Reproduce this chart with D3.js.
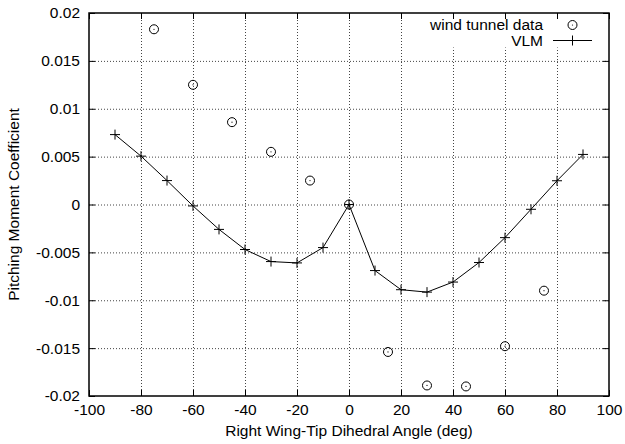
<!DOCTYPE html>
<html>
<head>
<meta charset="utf-8">
<script src="https://cdn.jsdelivr.net/npm/d3@7/dist/d3.min.js"></script>
<style>
  body { margin: 0; background: #fff; }
  svg { display: block; }
  text { font-family: "Liberation Sans", Arial, Helvetica, sans-serif; fill: #000; }
</style>
</head>
<body>
<svg id="chart" width="625" height="444"></svg>
<script>
// ---- data ----
const vlmAngles = [-90, -80, -70, -60, -50, -40, -30, -20, -10, 0, 10, 20, 30, 40, 50, 60, 70, 80, 90];
const vlmValues = [0.0073, 0.00505, 0.0025, -0.00015, -0.0026, -0.0047, -0.00596, -0.0061, -0.0045, 0.0,
                   -0.0069, -0.0089, -0.00915, -0.0081, -0.00606, -0.00346, -0.0005, 0.00248, 0.00523];
const windAngles = [-75, -60, -45, -30, -15, 0, 15, 30, 45, 60, 75];
const windValues = [0.0183, 0.0125, 0.0086, 0.0055, 0.0025, 0.0, -0.0154, -0.0189, -0.019, -0.0148, -0.009];
const xTicks = [-100, -80, -60, -40, -20, 0, 20, 40, 60, 80, 100];
const yTicks = [-0.02, -0.015, -0.01, -0.005, 0, 0.005, 0.01, 0.015, 0.02];
const xTitle = "Right Wing-Tip Dihedral Angle (deg)";
const yTitle = "Pitching Moment Coefficient";
const legendLabels = ["wind tunnel data", "VLM"];

// ---- layout ----
const svg = d3.select("#chart");
const L = 89, R = 609, T = 13, B = 396;
const x = d3.scaleLinear().domain([-100, 100]).range([L, R]);
const y = d3.scaleLinear().domain([-0.02, 0.02]).range([B, T]);
const FS = 15.5;

// grid
const gridX = svg.append("g").attr("transform", `translate(0,${B})`)
  .call(d3.axisBottom(x).tickValues(xTicks.slice(1, -1)).tickSize(-(B - T)).tickFormat(""));
const gridY = svg.append("g").attr("transform", `translate(${L},0)`)
  .call(d3.axisLeft(y).tickValues(yTicks.slice(1, -1)).tickSize(-(R - L)).tickFormat(""));
[gridX, gridY].forEach(g => {
  g.select(".domain").remove();
  g.selectAll(".tick line").attr("stroke", "#444").attr("stroke-width", 1).attr("stroke-dasharray", "1,2");
});

// legend background (hides grid)
svg.append("rect").attr("x", 420).attr("y", T + 0.5).attr("width", R - 420 - 0.5).attr("height", 34).attr("fill", "#fff");

// axes with inward ticks
const TK = 6;
const axB = svg.append("g").attr("transform", `translate(0,${B})`)
  .call(d3.axisBottom(x).tickValues(xTicks).tickSizeInner(-TK).tickSizeOuter(0).tickPadding(8).tickFormat(d => String(d)));
const axT = svg.append("g").attr("transform", `translate(0,${T})`)
  .call(d3.axisTop(x).tickValues(xTicks).tickSizeInner(-TK).tickSizeOuter(0).tickFormat(""));
const axL = svg.append("g").attr("transform", `translate(${L},0)`)
  .call(d3.axisLeft(y).tickValues(yTicks).tickSizeInner(-TK).tickSizeOuter(0).tickPadding(9).tickFormat(d => String(d)));
const axR = svg.append("g").attr("transform", `translate(${R},0)`)
  .call(d3.axisRight(y).tickValues(yTicks).tickSizeInner(-TK).tickSizeOuter(0).tickFormat(""));
[axB, axT, axL, axR].forEach(g => {
  g.select(".domain").remove();
  g.selectAll(".tick line").attr("stroke", "#000").attr("stroke-width", 1);
  g.selectAll("text").attr("font-size", FS).attr("font-family", "Liberation Sans, Arial, sans-serif").attr("fill", "#000");
});

// border
svg.append("rect").attr("x", L).attr("y", T).attr("width", R - L).attr("height", B - T)
  .attr("fill", "none").attr("stroke", "#000").attr("stroke-width", 1.5);

// titles
svg.append("text").attr("x", (L + R) / 2).attr("y", 436).attr("text-anchor", "middle")
  .attr("font-size", FS).text(xTitle);
svg.append("text").attr("transform", `translate(19,${(T + B) / 2}) rotate(-90)`).attr("text-anchor", "middle")
  .attr("font-size", FS).text(yTitle);

// VLM line + plus markers
const vlm = vlmAngles.map((a, i) => [a, vlmValues[i]]);
svg.append("path").datum(vlm)
  .attr("d", d3.line().x(d => x(d[0])).y(d => y(d[1])))
  .attr("fill", "none").attr("stroke", "#000").attr("stroke-width", 1);
const P = 5;
function plus(g, cx, cy) {
  g.append("path").attr("d", `M${cx - P},${cy}H${cx + P}M${cx},${cy - P}V${cy + P}`)
    .attr("stroke", "#000").attr("stroke-width", 1).attr("fill", "none");
}
vlm.forEach(d => plus(svg, x(d[0]), y(d[1])));

// wind tunnel markers
const wind = windAngles.map((a, i) => [a, windValues[i]]);
function circ(g, cx, cy) {
  g.append("circle").attr("cx", cx).attr("cy", cy).attr("r", 4.5)
    .attr("fill", "none").attr("stroke", "#000").attr("stroke-width", 1);
  g.append("circle").attr("cx", cx).attr("cy", cy).attr("r", 0.6).attr("fill", "#000");
}
wind.forEach(d => circ(svg, x(d[0]), y(d[1])));

// legend
svg.append("text").attr("x", 543).attr("y", 30).attr("text-anchor", "end").attr("font-size", FS).text(legendLabels[0]);
svg.append("text").attr("x", 543).attr("y", 46).attr("text-anchor", "end").attr("font-size", FS).text(legendLabels[1]);
circ(svg, 572.5, 25);
svg.append("line").attr("x1", 553).attr("x2", 592).attr("y1", 40.5).attr("y2", 40.5).attr("stroke", "#000").attr("stroke-width", 1);
plus(svg, 572.5, 40.5);
</script>
</body>
</html>
